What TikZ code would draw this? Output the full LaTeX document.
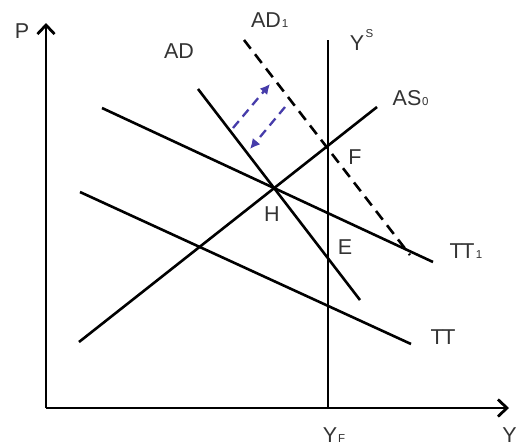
\documentclass[tikz,border=0pt]{standalone}
\usepackage{fontspec}
\setmainfont{Liberation Sans}
\usetikzlibrary{arrows.meta}
\begin{document}
\begin{tikzpicture}[x=1pt,y=-1pt,
  curve/.style={line width=2.6pt,black},
  axis/.style={line width=2.8pt,black,-{Straight Barb[length=9pt,width=17pt,line width=2.8pt]}},
  dashcurve/.style={curve,dash pattern=on 11pt off 7pt},
  shiftarrow/.style={line width=2.3pt,color={rgb,255:red,70;green,60;blue,170},dash pattern=on 9pt off 6pt,-{Latex[length=10pt,width=10pt]}},
  lab/.style={inner sep=0pt,text=black!80,font=\fontsize{21.5}{21.5}\selectfont},
  sub/.style={inner sep=0pt,text=black!80,font=\fontsize{11.5}{11.5}\selectfont}]
\useasboundingbox (0,0) rectangle (518,447);
% axes
\coordinate (O) at (46,408);
\coordinate (Ptip) at (46,23);
\coordinate (Ytip) at (509,408);
\draw[axis] (O) -- (Ptip);
\draw[axis] (O) -- (Ytip);
% curves
\coordinate (YsT) at (328,40);
\coordinate (YsB) at (328,408);
\draw[curve] (YsT) -- (YsB);
\coordinate (AS0a) at (79,342);
\coordinate (AS0b) at (377,107);
\draw[curve] (AS0a) -- (AS0b);
\coordinate (ADa) at (198,89);
\coordinate (ADb) at (360,300);
\draw[curve] (ADa) -- (ADb);
\coordinate (AD1a) at (244,40);
\coordinate (AD1b) at (410,255);
\draw[dashcurve] (AD1a) -- (AD1b);
\coordinate (PI1a) at (102,108);
\coordinate (PI1b) at (433,262);
\draw[curve] (PI1a) -- (PI1b);
\coordinate (PIa) at (80,192);
\coordinate (PIb) at (411,344);
\draw[curve] (PIa) -- (PIb);
% shift arrows
\coordinate (upA) at (233,128);
\coordinate (upB) at (270,84);
\draw[shiftarrow] (upA) -- (upB);
\coordinate (dnA) at (285,107);
\coordinate (dnB) at (250,149);
\draw[shiftarrow] (dnA) -- (dnB);
% labels
\node[lab] (lP) at (22,31) {P};
\node[lab] (lAD) at (179,51) {AD};
\node[lab] (lAD1) at (266,20) {AD};
\node[sub,anchor=base west] (lAD1s) at ([xshift=0.5pt]lAD1.base east) {1};
\node[lab] (lYs) at (357,43) {Y};
\node[sub,anchor=west] (lYss) at ([xshift=1pt,yshift=2pt]lYs.north east) {S};
\node[lab] (lAS) at (407,98) {AS};
\node[sub,anchor=base west] (lASs) at ([xshift=0.5pt]lAS.base east) {0};
\node[lab] (lF) at (355,157) {F};
\node[lab] (lH) at (272,214) {H};
\node[lab] (lE) at (345,247) {E};
\node[lab] (lPi1) at (462,251) {T\kern-1.5pt T};
\node[sub,anchor=base west] (lPi1s) at ([xshift=1pt]lPi1.base east) {1};
\node[lab] (lPi) at (443,337) {T\kern-1.5pt T};
\node[lab] (lYF) at (330,435) {Y};
\node[sub,anchor=base west] (lYFs) at ([xshift=0.5pt]lYF.base east) {F};
\node[lab,anchor=east] (lY) at (517,435) {Y};
\end{tikzpicture}
\end{document}
